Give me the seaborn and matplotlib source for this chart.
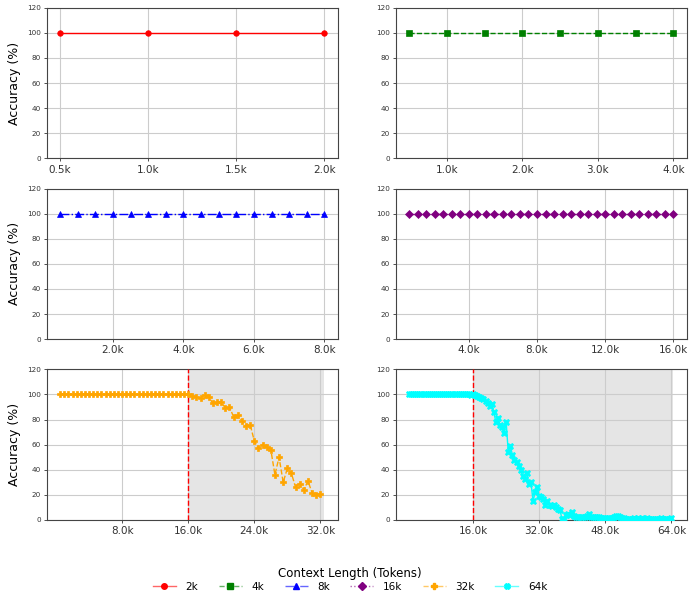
import matplotlib
matplotlib.use("Agg")
import matplotlib.pyplot as plt
from matplotlib.lines import Line2D
from matplotlib.ticker import FuncFormatter, FixedLocator
import pandas as pd
import seaborn as sns

# ---------------- data ----------------
labels = ["2k", "4k", "8k", "16k", "32k", "64k"]
max_len = [2000, 4000, 8000, 16000, 32000, 64000]
step = 500
train_len = 16000

acc_2k = [100, 100, 100, 100]
acc_4k = [100, 100, 100, 100, 100, 100, 100, 100]
acc_8k = [100, 100, 100, 100, 100, 100, 100, 100,
          100, 100, 100, 100, 100, 100, 100, 100]
acc_16k = [100, 100, 100, 100, 100, 100, 100, 100,
           100, 100, 100, 100, 100, 100, 100, 100,
           100, 100, 100, 100, 100, 100, 100, 100,
           100, 100, 100, 100, 100, 100, 100, 100]
acc_32k = [100, 100, 100, 100, 100, 100, 100, 100,
           100, 100, 100, 100, 100, 100, 100, 100,
           100, 100, 100, 100, 100, 100, 100, 100,
           100, 100, 100, 100, 100, 100, 100,
           100, 99, 98, 97, 99.7, 97.6, 93, 94, 94, 89, 90, 82, 83.5, 79,
           74.5, 76, 63, 57, 60, 58, 56, 36, 50, 30, 41, 37, 26, 29, 24,
           31, 21.5, 20, 21]
acc_64k = [100, 100, 100, 100, 100, 100, 100, 100,
           100, 100, 100, 100, 100, 100, 100, 100,
           100, 100, 100, 100, 100, 100, 100, 100,
           100, 100, 100, 100, 100, 100, 99.5,
           100, 99.5, 99, 98, 97, 96, 95, 93, 91, 92, 86, 78, 81, 76, 74, 69, 78,
           54, 59, 52, 48, 46, 43, 40, 35, 33, 37, 29, 30, 15, 22, 26, 19,
           18, 17, 12, 15, 12, 11, 12, 10, 9, 8, 1, 1, 4, 5, 4, 6,
           3, 2, 2, 2, 2, 2, 3, 5, 2, 2, 2, 2, 2, 1.5, 1.5, 1.5,
           1.5, 1.5, 1.5, 2, 3, 3, 2, 1.5, 1.5, 1, 1, 1, 1, 1.5, 1, 1.5,
           1, 1.5, 1, 1.5, 1, 1, 1, 1, 1, 1, 1.5, 1, 1, 1, 1, 1.5]
accs = [acc_2k, acc_4k, acc_8k, acc_16k, acc_32k, acc_64k]

colors = ["red", "green", "blue", "purple", "orange", "cyan"]
markers = ["o", "s", "^", "D", "P", "X"]
linestyles = ["-", "--", "-.", ":", "--", "-"]
msizes = [4, 4, 4.5, 4, 5, 4.5]

# ---------------- figure ----------------
plt.rcParams["font.family"] = ["DejaVu Sans"]
fig, axes = plt.subplots(3, 2, figsize=(7, 5.99), dpi=100)
fig.subplots_adjust(left=0.067, right=0.981, top=0.987, bottom=0.132,
                    wspace=0.2, hspace=0.2)

kfmt = FuncFormatter(lambda v, p: f"{v/1000:.1f}k")

for i, ax in enumerate(axes.flat):
    xs = list(range(step, max_len[i] + 1, step))
    assert len(xs) == len(accs[i])
    df = pd.DataFrame({"tokens": xs, "acc": accs[i]})
    if max_len[i] > train_len:
        ax.axvspan(train_len, max_len[i] + step, color="gray", alpha=0.2,
                   lw=0, zorder=0)
        ax.axvline(train_len, color="red", linestyle="--", linewidth=1,
                   zorder=3)
    sns.lineplot(data=df, x="tokens", y="acc", ax=ax, color=colors[i],
                 marker=markers[i], linestyle=linestyles[i], linewidth=1,
                 markersize=msizes[i], markeredgewidth=0.5,
                 markeredgecolor=colors[i], zorder=4)
    ax.set_ylim(0, 120)
    ax.set_yticks([0, 20, 40, 60, 80, 100, 120])
    q = max_len[i] / 4
    ax.xaxis.set_major_locator(FixedLocator([q, 2 * q, 3 * q, 4 * q]))
    ax.xaxis.set_major_formatter(kfmt)
    ax.grid(True, color="#cccccc", linewidth=0.8)
    ax.set_xlabel("")
    if i % 2 == 0:
        ax.set_ylabel("Accuracy (%)", fontsize=9)
    else:
        ax.set_ylabel("")
    ax.tick_params(axis="y", labelsize=5.2, length=2.5, width=0.6,
                   colors="#333333", pad=2)
    ax.tick_params(axis="x", labelsize=7.5, length=2.5, width=0.6,
                   colors="#333333", pad=2)
    for s in ax.spines.values():
        s.set_linewidth(0.8)
        s.set_color("#444444")

handles = [Line2D([0], [0], color=(*matplotlib.colors.to_rgb(c), 0.6),
                  linestyle=ls, marker=m, markersize=4,
                  markerfacecolor=c, markeredgecolor=c, linewidth=1)
           for c, ls, m in zip(colors, linestyles, markers)]
fig.legend(handles, labels, loc="upper center", bbox_to_anchor=(0.5, 0.066),
           ncol=6, frameon=False, title="Context Length (Tokens)",
           fontsize=7.5, title_fontsize=8.5, handlelength=2.2,
           handletextpad=0.9, columnspacing=2.0, borderpad=0.2,
           labelspacing=0.2)

fig.savefig("out.png", dpi=100)
